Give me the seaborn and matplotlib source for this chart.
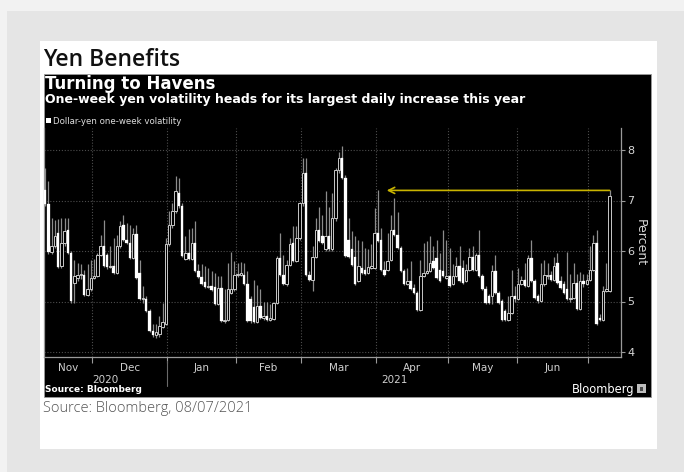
import numpy as np
import pandas as pd
import matplotlib
matplotlib.use("Agg")
import matplotlib.pyplot as plt
import matplotlib.transforms as mtransforms
from matplotlib.patches import Rectangle
from matplotlib.lines import Line2D
import seaborn as sns

# ---------------- data ----------------
start_date = "2020-11-10"
opens = [7.21, 6.93, 5.99, 6.09, 6.36, 5.70, 6.15, 6.42, 5.96, 5.37,
         5.47, 5.52, 5.53, 5.12, 5.24, 5.47, 5.50, 5.93, 6.09, 5.93,
         5.68, 5.70, 5.57, 6.09, 6.52, 6.22, 6.16, 5.86, 6.34, 5.57,
         5.04, 5.05, 4.82, 4.42, 4.33, 4.36, 4.49, 4.56, 6.13, 6.52,
         6.79, 7.15, 6.89, 5.84, 5.97, 5.84, 6.16, 5.61, 5.48, 5.38,
         5.28, 5.30, 5.28, 4.95, 5.26, 4.61, 4.64, 5.17, 5.24, 5.52,
         5.53, 5.53, 5.34, 5.04, 4.90, 4.59, 4.91, 4.68, 4.71, 4.64,
         4.66, 4.97, 5.86, 5.53, 5.34, 5.73, 6.16, 5.80, 6.26, 6.95,
         7.54, 5.52, 5.43, 5.89, 6.42, 6.29, 6.03, 6.30, 6.03, 6.65,
         7.60, 7.84, 7.45, 6.22, 6.03, 5.89, 5.40, 5.66, 5.63, 5.57,
         5.66, 5.66, 6.36, 6.22, 5.63, 5.63, 5.83, 6.42, 6.32, 6.06,
         5.60, 5.34, 5.40, 5.27, 5.17, 4.84, 5.50, 5.57, 5.60, 5.80,
         5.86, 5.63, 5.60, 5.47, 5.50, 5.34, 5.50, 5.70, 5.66, 5.40,
         5.63, 5.89, 5.63, 5.93, 5.50, 5.24, 5.11, 5.11, 5.60, 5.17,
         5.00, 4.81, 4.64, 4.77, 5.11, 5.04, 5.34, 5.43, 5.30, 5.86,
         5.40, 5.11, 5.01, 5.34, 5.50, 5.53, 5.43, 5.76, 5.40, 5.34,
         5.24, 5.04, 5.07, 5.37, 4.86, 5.40, 5.34, 5.43, 5.63, 6.16,
         4.68, 4.64, 5.20, 5.20]
highs = [7.64, 7.38, 6.65, 6.62, 6.63, 6.65, 6.65, 6.65, 6.00, 5.82,
         5.76, 5.75, 5.62, 5.75, 5.82, 5.85, 5.96, 6.32, 6.62, 5.96,
         6.09, 6.26, 6.32, 6.59, 6.72, 6.55, 6.52, 6.45, 6.52, 5.82,
         5.30, 5.10, 4.85, 4.56, 4.56, 4.72, 4.98, 6.26, 6.79, 6.95,
         7.48, 7.44, 6.95, 6.30, 6.43, 6.46, 6.59, 5.75, 5.74, 5.70,
         5.67, 5.60, 5.57, 5.50, 5.50, 5.24, 5.76, 5.99, 5.80, 5.77,
         5.78, 5.76, 5.60, 5.10, 5.43, 5.33, 5.25, 5.00, 4.99, 4.95,
         5.00, 5.90, 6.36, 5.93, 5.82, 6.26, 6.49, 6.49, 6.98, 7.84,
         7.84, 5.60, 6.09, 6.65, 6.88, 6.72, 7.18, 6.88, 7.14, 7.64,
         7.97, 8.07, 7.50, 6.65, 6.40, 6.30, 6.22, 6.19, 6.06, 6.03,
         6.13, 6.85, 7.21, 6.45, 5.80, 6.36, 6.72, 7.05, 6.78, 6.10,
         5.65, 5.66, 5.80, 5.35, 5.20, 5.83, 6.16, 6.19, 6.29, 6.09,
         6.22, 5.96, 6.42, 6.22, 6.06, 5.75, 5.89, 6.09, 5.83, 5.75,
         6.06, 6.09, 5.96, 6.42, 5.55, 5.30, 5.15, 5.73, 5.93, 5.20,
         5.04, 4.85, 5.11, 5.63, 5.30, 5.66, 5.50, 5.76, 5.93, 6.22,
         5.45, 5.15, 5.76, 5.83, 5.76, 5.60, 5.89, 5.96, 5.50, 5.40,
         5.99, 5.55, 5.76, 5.55, 5.58, 5.55, 5.55, 6.10, 6.32, 6.42,
         4.75, 5.30, 5.76, 7.21]
lows = [6.90, 5.95, 5.95, 6.05, 5.66, 5.66, 6.10, 5.94, 4.97, 4.98,
        5.40, 5.45, 5.10, 5.10, 5.20, 5.45, 5.48, 5.90, 5.68, 5.65,
        5.66, 5.55, 5.55, 6.05, 6.20, 6.14, 5.84, 5.84, 5.45, 5.02,
        4.98, 4.80, 4.40, 4.30, 4.28, 4.30, 4.47, 4.54, 6.10, 6.45,
        6.75, 6.85, 5.88, 5.82, 5.82, 5.82, 5.59, 5.46, 5.32, 5.26,
        5.26, 5.20, 4.93, 4.93, 4.59, 4.58, 4.62, 5.15, 5.20, 5.48,
        5.50, 5.32, 4.60, 4.58, 4.57, 4.57, 4.66, 4.64, 4.62, 4.62,
        4.64, 4.95, 5.50, 5.32, 5.30, 5.70, 5.78, 5.78, 6.22, 6.90,
        5.50, 5.40, 5.20, 5.87, 6.17, 6.14, 6.00, 6.00, 6.00, 6.60,
        7.55, 7.42, 5.88, 5.87, 5.71, 5.32, 5.38, 5.55, 5.53, 5.55,
        5.64, 5.64, 6.17, 5.60, 5.50, 5.60, 5.80, 6.30, 6.04, 5.58,
        5.32, 5.32, 5.22, 5.15, 4.82, 4.82, 5.48, 5.55, 5.58, 5.64,
        5.45, 5.38, 5.48, 5.45, 5.28, 5.32, 5.48, 5.38, 5.35, 5.38,
        5.60, 5.60, 5.60, 5.48, 5.22, 4.95, 4.95, 4.95, 5.15, 4.95,
        4.62, 4.62, 4.62, 4.75, 5.00, 5.02, 5.32, 5.28, 5.28, 5.38,
        5.05, 4.98, 4.99, 5.30, 5.45, 5.41, 5.40, 5.35, 5.25, 5.15,
        5.02, 5.00, 5.04, 4.84, 4.84, 5.28, 5.32, 5.40, 5.60, 4.53,
        4.62, 4.62, 5.18, 5.18]
closes = [6.93, 5.99, 6.09, 6.30, 5.68, 6.15, 6.40, 5.96, 5.01, 5.50,
          5.52, 5.53, 5.12, 5.24, 5.47, 5.50, 5.93, 6.09, 5.70, 5.68,
          5.70, 5.57, 6.09, 6.49, 6.22, 6.16, 5.86, 6.34, 5.47, 5.04,
          5.05, 4.82, 4.42, 4.33, 4.39, 4.52, 4.59, 6.13, 6.52, 6.80,
          7.18, 6.89, 5.90, 5.97, 5.84, 6.16, 5.61, 5.48, 5.34, 5.28,
          5.31, 5.22, 4.95, 5.26, 4.61, 4.64, 5.24, 5.24, 5.52, 5.53,
          5.55, 5.34, 4.62, 4.62, 4.59, 4.91, 4.68, 4.71, 4.64, 4.66,
          4.97, 5.86, 5.53, 5.34, 5.73, 6.13, 5.80, 6.26, 6.95, 7.54,
          5.52, 5.43, 5.89, 6.42, 6.19, 6.16, 6.29, 6.03, 6.65, 7.60,
          7.84, 7.45, 5.91, 5.89, 5.73, 5.34, 5.70, 5.57, 5.55, 5.68,
          5.70, 6.36, 6.19, 5.63, 5.53, 5.80, 6.42, 6.32, 6.06, 5.60,
          5.34, 5.40, 5.24, 5.17, 4.84, 5.50, 5.57, 5.60, 5.76, 5.66,
          5.47, 5.40, 5.50, 5.50, 5.30, 5.50, 5.70, 5.40, 5.37, 5.63,
          5.89, 5.63, 5.93, 5.50, 5.24, 4.97, 4.97, 5.60, 5.17, 4.97,
          4.64, 4.64, 4.77, 5.11, 5.04, 5.34, 5.43, 5.30, 5.86, 5.40,
          5.07, 5.01, 5.34, 5.53, 5.53, 5.43, 5.70, 5.37, 5.27, 5.17,
          5.04, 5.07, 5.37, 4.86, 5.40, 5.34, 5.43, 5.63, 6.16, 4.55,
          4.64, 5.20, 5.24, 7.08]
month_labels = ["Nov", "Dec", "Jan", "Feb", "Mar", "Apr", "May", "Jun"]
year_labels = ["2020", "2021"]
y_ticks = [4, 5, 6, 7, 8]
arrow_level = 7.2
series_name = "Dollar-yen one-week volatility"

df = pd.DataFrame({
    "date": pd.bdate_range(start_date, periods=len(closes)),
    "open": opens, "high": highs, "low": lows, "close": closes,
})
df["pos"] = np.arange(len(df))

# ---------------- style ----------------
sns.set_theme(style="dark", rc={"axes.facecolor": "black",
                                "savefig.facecolor": "#e5e5e5"})
plt.rcParams["font.family"] = ["DejaVu Sans"]

W, H = 684, 472
fig = plt.figure(figsize=(W / 100, H / 100), dpi=100, facecolor="#f2f2f2")


def fx(x):
    return x / W


def fy(y):
    return 1 - y / H


def rect(x0, y0, x1, y1, **kw):
    fig.add_artist(Rectangle((fx(x0), fy(y1)), fx(x1) - fx(x0), fy(y0) - fy(y1),
                             transform=fig.transFigure, **kw))


rect(7, 11, W + 2, H + 2, facecolor="#e5e5e5", edgecolor="none", zorder=0)
rect(40, 41, 657, 449, facecolor="white", edgecolor="none", zorder=0)
rect(44, 74, 651, 397, facecolor="black", edgecolor="#9a9a9a", lw=0.6, zorder=0)

# plot axes (pixel layout)
ax = fig.add_axes([fx(44), fy(357), fx(621) - fx(44), fy(128) - fy(357)])
ax.set_facecolor("black")
step_px, x0_px = 3.263, 45.1
ax.set_xlim((44 - x0_px) / step_px, (621 - x0_px) / step_px)
ax.set_ylim(8 - (357 - 150) / 50.5, 8 + (150 - 128) / 50.5)

# month boundaries / centres from the dates
mon = df["date"].dt.to_period("M")
starts = df.index[mon != mon.shift()].tolist()
bounds = [s - 0.5 for s in starts[1:]]
xl, xr = ax.get_xlim()
edges = [xl] + bounds + [xr]
centres = [(edges[k] + edges[k + 1]) / 2 for k in range(len(month_labels))]

grid_kw = dict(color="#4d4d4d", lw=0.8, ls=(0, (1, 1.6)), zorder=1)
for v in y_ticks:
    ax.axhline(v, **grid_kw)
for b in bounds:
    ax.axvline(b, **grid_kw)

# candles
o, h, l, c = (df[k].to_numpy() for k in ("open", "high", "low", "close"))
x = df["pos"].to_numpy()
up = c >= o
lo = np.minimum(o, c)
ht = np.maximum(np.abs(c - o), 0.03)
ax.vlines(x, l, h, color="#8c8c8c", lw=0.9, zorder=2)
ax.bar(x[~up], ht[~up], bottom=lo[~up], width=0.76, color="white",
       edgecolor="white", lw=0.2, zorder=3)
ax.bar(x[up], ht[up], bottom=lo[up], width=0.76, color="black",
       edgecolor="#c8c8c8", lw=0.7, zorder=3)

# arrow back to the April high
ax.annotate("", xy=(104.7, arrow_level), xytext=(x[-1], arrow_level),
            arrowprops=dict(arrowstyle="->", color="#c9b400", lw=1.2,
                            shrinkA=0, shrinkB=0, mutation_scale=11),
            zorder=5)

# spines and ticks
for s in ("left", "bottom", "right"):
    ax.spines[s].set_visible(True)
    ax.spines[s].set_color("#9a9a9a")
    ax.spines[s].set_linewidth(0.9)
ax.spines["top"].set_visible(False)

ax.yaxis.tick_right()
ax.set_yticks(y_ticks)
ax.set_yticklabels([str(t) for t in y_ticks])
ax.tick_params(axis="y", which="major", direction="out", length=3, width=0.8,
               color="#9a9a9a", labelcolor="#d6d6d6", labelsize=8, pad=1.5,
               left=False, right=True)
ax.yaxis.set_label_position("right")
ax.set_ylabel("Percent", rotation=270, color="#d6d6d6", fontsize=9, labelpad=9)

ax.set_xticks(bounds)
ax.set_xticklabels([""] * len(bounds))
ax.set_xticks(centres, minor=True)
ax.set_xticklabels(month_labels, minor=True)
ax.tick_params(axis="x", which="major", direction="out", length=4, width=0.8,
               color="#9a9a9a", bottom=True)
ax.tick_params(axis="x", which="minor", length=0, labelsize=7.5,
               labelcolor="#d0d0d0", pad=4, bottom=True)
ax.grid(False)

# year labels + separator
blend = mtransforms.blended_transform_factory(ax.transData, fig.transFigure)
jan_b = bounds[1]
ax.text((xl + jan_b) / 2, fy(380), year_labels[0], transform=blend, ha="center",
        va="center", fontsize=7.5, color="#d0d0d0", clip_on=False)
ax.text((jan_b + xr) / 2, fy(380), year_labels[1], transform=blend, ha="center",
        va="center", fontsize=7.5, color="#d0d0d0", clip_on=False)
fig.add_artist(Line2D([jan_b, jan_b], [fy(361), fy(386)], transform=blend,
                      color="#6a6a6a", lw=0.8))

# texts
fig.text(fx(43), fy(66), "Yen Benefits", fontsize=16.5,
         family=["Open Sans", "DejaVu Sans"], weight="semibold",
         color="#111111", va="baseline")
fig.text(fx(45), fy(89), "Turning to Havens", fontsize=12, weight="bold",
         color="white", va="baseline")
fig.text(fx(45), fy(103.5),
         "One-week yen volatility heads for its largest daily increase this year",
         fontsize=9.0, weight="bold", color="white", va="baseline")
rect(46, 118, 51, 123, facecolor="white", edgecolor="none", zorder=3)
fig.text(fx(53), fy(123.5), series_name, fontsize=6.2, color="#dddddd",
         va="baseline")
fig.text(fx(45), fy(392), "Source: Bloomberg", fontsize=6.5, weight="bold",
         color="white", va="baseline")
fig.text(fx(634), fy(393), "Bloomberg", fontsize=8.3, color="white",
         ha="right", va="baseline")
rect(637, 384, 646, 393, facecolor="#bdbdbd", edgecolor="none", zorder=3)
rect(640, 387, 643, 391, facecolor="#4a4a4a", edgecolor="none", zorder=4)
fig.text(fx(43), fy(412), "Source: Bloomberg, 08/07/2021", fontsize=10.5,
         family=["Open Sans", "DejaVu Sans"], weight="light", color="#555555",
         va="baseline")

fig.savefig("out.png", dpi=100, facecolor=fig.get_facecolor())
